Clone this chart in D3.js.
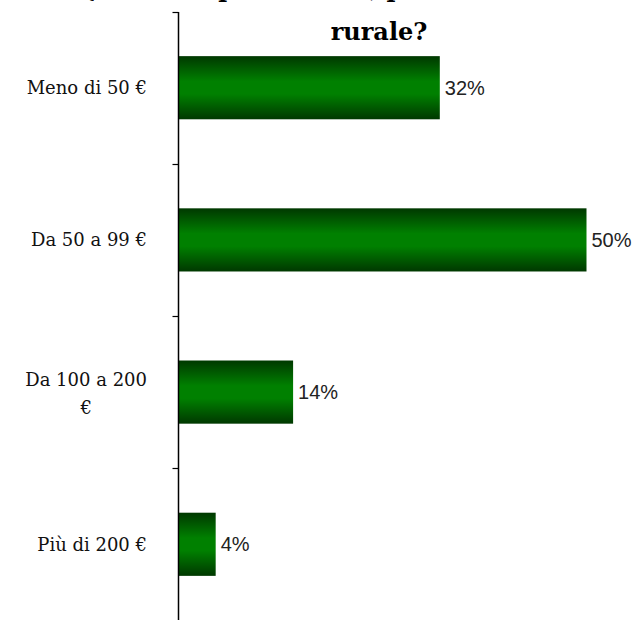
<!doctype html>
<meta charset="utf-8">
<title>Spesa</title>
<script src="https://cdn.jsdelivr.net/npm/d3@7/dist/d3.min.js"></script>
<style>
  body { margin: 0; background: #fff; }
</style>
<div class="chart"></div>
<script>
  // dati
  const categories = ['Meno di 50 €', 'Da 50 a 99 €', 'Da 100 a 200 €', 'Più di 200 €']
  const values = [0.32, 0.50, 0.14, 0.045]
  const valueLabels = ['32%', '50%', '14%', '4%']
  const titleLines = ['Qual è la spesa media, per la vacanza in area', 'rurale?']

  const width = 638, height = 620
  const axisX = 178.5

  const svg = d3.select('.chart')
    .append('svg')
    .attr('width', width)
    .attr('height', height)

  const defs = svg.append('defs')
  const grad = defs.append('linearGradient')
    .attr('id', 'barGrad')
    .attr('x1', 0).attr('y1', 0).attr('x2', 0).attr('y2', 1)
  grad.append('stop').attr('offset', '0%').attr('stop-color', '#003800')
  grad.append('stop').attr('offset', '40%').attr('stop-color', '#008000')
  grad.append('stop').attr('offset', '60%').attr('stop-color', '#008000')
  grad.append('stop').attr('offset', '100%').attr('stop-color', '#003800')

  const y = d3.scaleBand()
    .domain(categories)
    .range([12, 620])
    .paddingInner(0.585)
    .paddingOuter(0.29)

  const x = d3.scaleLinear()
    .domain([0, 0.5])
    .range([axisX + 0.5, axisX + 408])

  // titolo (prima riga tagliata in alto)
  const titleFont = 'bold 24px "DejaVu Serif"'
  svg.append('text')
    .attr('x', 379).attr('y', -3)
    .attr('text-anchor', 'middle')
    .style('font', titleFont)
    .text(titleLines[0])
  svg.append('text')
    .attr('x', 379).attr('y', 40)
    .attr('text-anchor', 'middle')
    .style('font', titleFont)
    .text(titleLines[1])

  // barre
  svg.selectAll('rect.bar')
    .data(values)
    .enter()
    .append('rect')
    .attr('class', 'bar')
    .attr('x', x(0))
    .attr('y', (d, i) => y(categories[i]))
    .attr('width', d => x(d) - x(0))
    .attr('height', y.bandwidth())
    .attr('fill', 'url(#barGrad)')

  // etichette valori
  svg.selectAll('text.val')
    .data(values)
    .enter()
    .append('text')
    .attr('class', 'val')
    .attr('x', d => x(d) + 5)
    .attr('y', (d, i) => y(categories[i]) + y.bandwidth() / 2)
    .attr('dy', '0.36em')
    .style('font', '20px "Liberation Sans"')
    .style('fill', '#222')
    .text((d, i) => valueLabels[i])

  // asse y con tacche ai bordi delle categorie
  const edges = categories.map(c => y(c) - y.step() * y.paddingInner() / 2)
  svg.append('line')
    .attr('x1', axisX).attr('x2', axisX)
    .attr('y1', 12).attr('y2', 620)
    .attr('stroke', '#000').attr('stroke-width', 1.5)
  svg.selectAll('line.tick')
    .data(edges)
    .enter()
    .append('line')
    .attr('class', 'tick')
    .attr('x1', axisX - 6).attr('x2', axisX)
    .attr('y1', d => Math.round(d) + 0.5).attr('y2', d => Math.round(d) + 0.5)
    .attr('stroke', '#000').attr('stroke-width', 1.2)

  // etichette categorie (con a capo per quelle lunghe)
  const maxW = 135
  categories.forEach((c, i) => {
    const cy = y(c) + y.bandwidth() / 2
    const t = svg.append('text')
      .style('font', '18px "DejaVu Serif"')
      .style('fill', '#111')
      .attr('text-anchor', 'end')
      .attr('x', 147)
      .attr('y', cy)
      .attr('dy', '0.35em')
      .text(c)
    if (t.node().getComputedTextLength() > maxW) {
      const words = c.split(' ')
      const last = words.pop()
      t.text(null).attr('dy', null)
      const l1 = t.append('tspan').text(words.join(' '))
      const w1 = l1.node().getComputedTextLength()
      const cx = 147 - w1 / 2
      t.attr('text-anchor', 'middle')
      l1.attr('x', cx).attr('y', cy - 12).attr('dy', '0.35em')
      t.append('tspan').attr('x', cx).attr('y', cy + 16).attr('dy', '0.35em').text(last)
    }
  })
</script>
